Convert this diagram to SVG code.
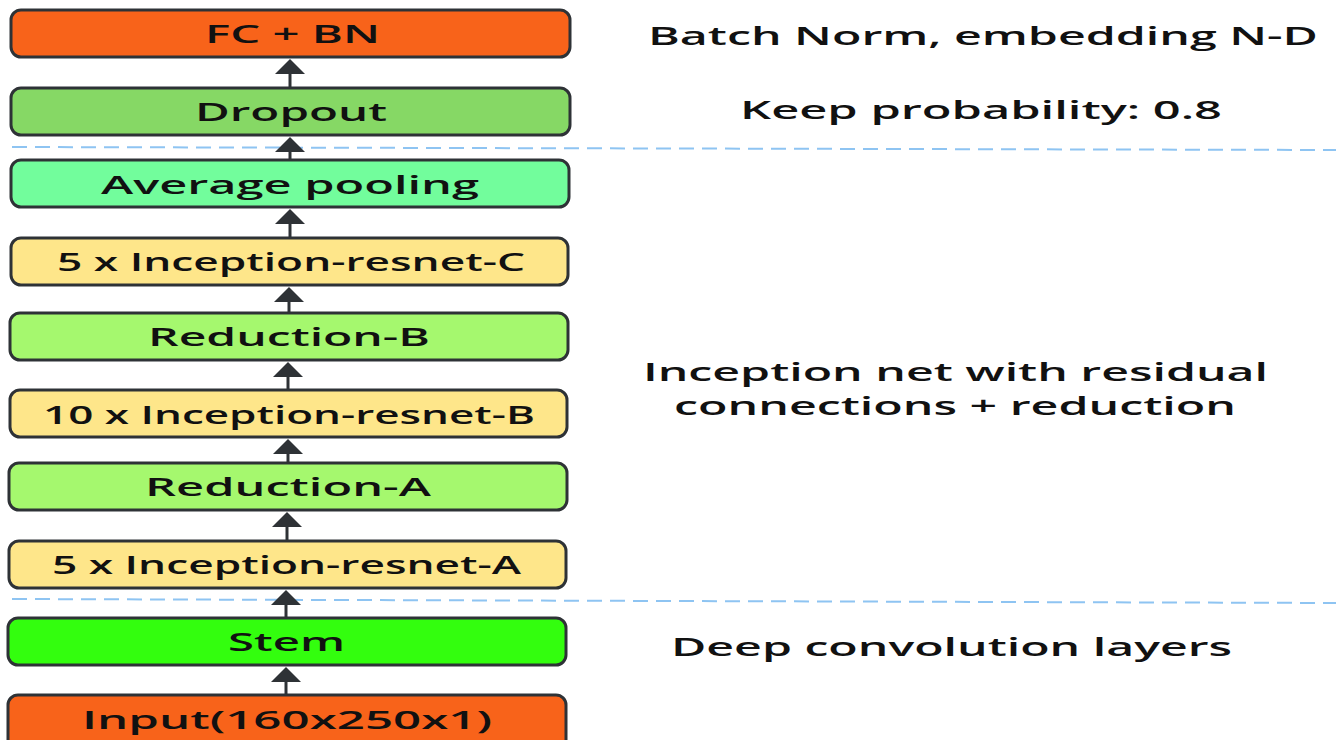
<svg xmlns="http://www.w3.org/2000/svg" width="1336" height="740" viewBox="0 0 1336 740">
  <style>
    .box { stroke: #2e3236; stroke-width: 3; }
    .lbl { font-family: "Open Sans", "DejaVu Sans", sans-serif; font-weight: 600; font-size: 25px; fill: #111; }
    .note { font-family: "Open Sans", "DejaVu Sans", sans-serif; font-weight: 600; font-size: 25px; fill: #111; }
    .orange { fill: #f8631a; }
    .drop { fill: #86d865; }
    .pool { fill: #72fd9c; }
    .incep { fill: #fee68a; }
    .reduc { fill: #a5f86e; }
    .stem { fill: #33fe0e; }
    .flow { stroke: #2e3236; stroke-width: 3; fill: none; marker-end: url(#head); }
    .sep { stroke: #8ec4f2; stroke-width: 2; stroke-dasharray: 15 8; fill: none; }
  </style>
  <defs>
    <marker id="head" markerUnits="userSpaceOnUse" markerWidth="15" markerHeight="30" viewBox="0 0 15 30" refX="0" refY="15" orient="auto">
      <path d="M0,0 L15,15 L0,30 z" fill="#2e3236"/>
    </marker>
  </defs>
  <rect width="1336" height="740" fill="#ffffff"/>

  <!-- section separators -->
  <g id="separators">
    <path class="sep" d="M12,147 L1336,150"/>
    <path class="sep" d="M12,599 L1336,603"/>
  </g>

  <!-- connectors: line runs to the base of the head, head tip meets the box above -->
  <g id="connectors">
    <line class="flow" x1="290" y1="88" x2="290" y2="74"/>
    <line class="flow" x1="290" y1="160" x2="290" y2="152"/>
    <line class="flow" x1="290" y1="238" x2="290" y2="224"/>
    <line class="flow" x1="289" y1="313" x2="289" y2="302"/>
    <line class="flow" x1="288" y1="390" x2="288" y2="377"/>
    <line class="flow" x1="288" y1="463" x2="288" y2="454"/>
    <line class="flow" x1="287" y1="541" x2="287" y2="527"/>
    <line class="flow" x1="286" y1="618" x2="286" y2="605"/>
    <line class="flow" x1="286" y1="695" x2="286" y2="682"/>
  </g>

  <!-- layer stack -->
  <g id="fc-bn">
    <rect class="box orange" x="11" y="10" width="559" height="47" rx="10"/>
    <text class="lbl" x="205" y="43" textLength="175" lengthAdjust="spacingAndGlyphs">FC + BN</text>
  </g>
  <g id="dropout">
    <rect class="box drop" x="11" y="88" width="559" height="47" rx="10"/>
    <text class="lbl" x="195" y="121" textLength="192" lengthAdjust="spacingAndGlyphs">Dropout</text>
  </g>
  <g id="avg-pool">
    <rect class="box pool" x="11" y="160" width="558" height="47" rx="10"/>
    <text class="lbl" x="101" y="193.5" textLength="378" lengthAdjust="spacingAndGlyphs">Average pooling</text>
  </g>
  <g id="incep-c">
    <rect class="box incep" x="11" y="238" width="557" height="47" rx="10"/>
    <text class="lbl" x="57" y="270.5" textLength="468" lengthAdjust="spacingAndGlyphs">5 x Inception-resnet-C</text>
  </g>
  <g id="reduction-b">
    <rect class="box reduc" x="10" y="313" width="558" height="47" rx="10"/>
    <text class="lbl" x="148" y="345.5" textLength="282" lengthAdjust="spacingAndGlyphs">Reduction-B</text>
  </g>
  <g id="incep-b">
    <rect class="box incep" x="10" y="390" width="557" height="47" rx="10"/>
    <text class="lbl" x="43" y="423.5" textLength="492" lengthAdjust="spacingAndGlyphs">10 x Inception-resnet-B</text>
  </g>
  <g id="reduction-a">
    <rect class="box reduc" x="9" y="463" width="558" height="47" rx="10"/>
    <text class="lbl" x="145" y="496" textLength="286" lengthAdjust="spacingAndGlyphs">Reduction-A</text>
  </g>
  <g id="incep-a">
    <rect class="box incep" x="9" y="541" width="557" height="47" rx="10"/>
    <text class="lbl" x="52" y="573.5" textLength="469" lengthAdjust="spacingAndGlyphs">5 x Inception-resnet-A</text>
  </g>
  <g id="stem">
    <rect class="box stem" x="8" y="618" width="558" height="47" rx="10"/>
    <text class="lbl" x="228" y="650.5" textLength="117" lengthAdjust="spacingAndGlyphs">Stem</text>
  </g>
  <g id="input">
    <rect class="box orange" x="8" y="695" width="558" height="60" rx="10"/>
    <text class="lbl" x="82" y="728.5" textLength="410" lengthAdjust="spacingAndGlyphs">Input(160x250x1)</text>
  </g>

  <!-- section notes -->
  <g id="notes">
    <text class="note" x="648" y="45" textLength="670" lengthAdjust="spacingAndGlyphs">Batch Norm, embedding N-D</text>
    <text class="note" x="740" y="119" textLength="482" lengthAdjust="spacingAndGlyphs">Keep probability: 0.8</text>
    <text class="note" x="643" y="380.5" textLength="625" lengthAdjust="spacingAndGlyphs">Inception net with residual</text>
    <text class="note" x="674" y="415" textLength="562" lengthAdjust="spacingAndGlyphs">connections + reduction</text>
    <text class="note" x="671" y="656" textLength="561" lengthAdjust="spacingAndGlyphs">Deep convolution layers</text>
  </g>
</svg>
